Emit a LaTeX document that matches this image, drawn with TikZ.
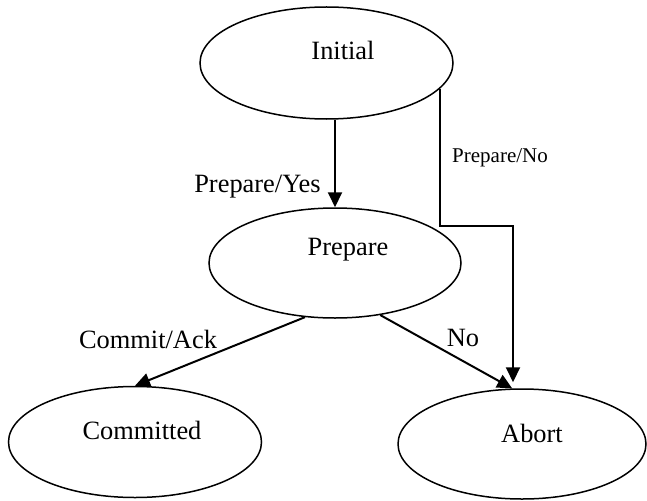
\documentclass[tikz,border=0pt]{standalone}
\usepackage{fontspec}
\setmainfont{Liberation Serif}
\usetikzlibrary{shapes.geometric,arrows.meta}
\begin{document}
\begin{tikzpicture}[x=1pt,y=-1pt,
  stnode/.style={draw=black,line width=1.5pt,ellipse,inner sep=0pt},
  txt/.style={font=\fontsize{26.4}{30}\selectfont,inner sep=0pt},
  smalltxt/.style={font=\fontsize{21}{24}\selectfont,inner sep=0pt},
  arr/.style={draw=black,line width=2pt,-{Triangle[length=15pt,width=14pt]}}]
\useasboundingbox (0,0) rectangle (647,500);
\node[stnode,minimum width=253pt,minimum height=112pt] (ini) at (326.5,63) {};
\node[stnode,minimum width=252pt,minimum height=110pt] (prep) at (335,263) {};
\node[stnode,minimum width=253pt,minimum height=111pt] (com) at (135,442) {};
\node[stnode,minimum width=248pt,minimum height=110pt] (abt) at (522,444) {};
\node[txt] (iniT) at (343,50) {Initial};
\node[txt] (prepT) at (348,250) {Prepare};
\node[txt] (comT) at (142,430) {Committed};
\node[txt] (abtT) at (532,433) {Abort};
\coordinate (bend) at (513,226);
\draw[arr] (prep.north |- ini.south) -- (prep.north);
\draw[arr,shorten >=6pt] (ini.-13.3) |- (bend) -- (bend |- abt.north);
\draw[arr] (prep.241.8) -- (com.north);
\draw[arr] (prep.-49) -- (abt.100);
\node[txt] (l1) at (257.5,187) {Prepare/Yes};
\node[smalltxt] (l2) at (500,158) {Prepare/No};
\node[txt] (l3) at (148,339) {Commit/Ack};
\node[txt] (l4) at (463,338) {No};
\end{tikzpicture}
\end{document}
